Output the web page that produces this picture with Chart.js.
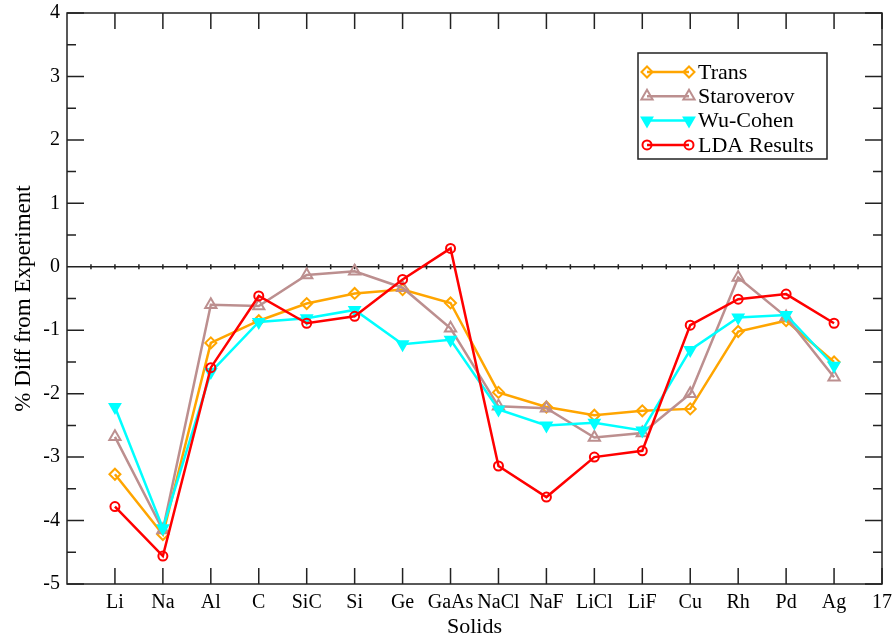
<!DOCTYPE html>
<html>
<head>
<meta charset="utf-8">
<script src="https://cdn.jsdelivr.net/npm/chart.js@4.4.1/dist/chart.umd.min.js"></script>
<style>
  body { margin: 0; background: #fff; }
  #wrap { width: 896px; height: 640px; }
</style>
</head>
<body>
<div id="wrap"><canvas id="solidsChart" width="896" height="640"></canvas></div>
<script>
const solids = ['Li', 'Na', 'Al', 'C', 'SiC', 'Si', 'Ge', 'GaAs', 'NaCl', 'NaF', 'LiCl', 'LiF', 'Cu', 'Rh', 'Pd', 'Ag'];
const xPos = [1, 2, 3, 4, 5, 6, 7, 8, 9, 10, 11, 12, 13, 14, 15, 16];

const trans = [-3.27, -4.22, -1.2, -0.85, -0.58, -0.42, -0.36, -0.57, -1.98, -2.21, -2.34, -2.27, -2.24, -1.02, -0.85, -1.5];
const staroverov = [-2.68, -4.15, -0.6, -0.62, -0.13, -0.07, -0.33, -0.97, -2.2, -2.23, -2.69, -2.62, -2.0, -0.17, -0.79, -1.74];
const wuCohen = [-2.21, -4.12, -1.66, -0.87, -0.81, -0.68, -1.22, -1.15, -2.25, -2.5, -2.46, -2.58, -1.31, -0.8, -0.76, -1.56];
const lda = [-3.78, -4.56, -1.59, -0.46, -0.89, -0.78, -0.2, 0.29, -3.14, -3.63, -3.0, -2.9, -0.92, -0.51, -0.43, -0.89];

const serif = '"Liberation Serif", "DejaVu Serif", serif';

function pts(vals) {
  return vals.map((v, i) => ({ x: xPos[i], y: v }));
}

// xmgrace style frame: inward ticks on all sides plus the zero line
const framePlugin = {
  id: 'frame',
  beforeDatasetsDraw(chart) {
    const ctx = chart.ctx;
    const a = chart.chartArea;
    const xs = chart.scales.x, ys = chart.scales.y;
    ctx.save();
    ctx.strokeStyle = '#222';
    ctx.lineWidth = 1.5;
    ctx.strokeRect(a.left, a.top, a.right - a.left, a.bottom - a.top);
    ctx.beginPath();
    for (let v = 1; v <= 17; v++) {
      const px = xs.getPixelForValue(v);
      ctx.moveTo(px, a.top); ctx.lineTo(px, a.top + 16);
      ctx.moveTo(px, a.bottom); ctx.lineTo(px, a.bottom - 16);
    }
    for (let v = -5; v <= 4; v += 0.5) {
      const py = ys.getPixelForValue(v);
      const len = Number.isInteger(v) ? 17 : 9;
      ctx.moveTo(a.left, py); ctx.lineTo(a.left + len, py);
      ctx.moveTo(a.right, py); ctx.lineTo(a.right - len, py);
    }
    const zy = ys.getPixelForValue(0);
    ctx.moveTo(a.left, zy); ctx.lineTo(a.right, zy);
    for (let v = 0.5; v < 17; v += 0.5) {
      const px = xs.getPixelForValue(v);
      ctx.moveTo(px, zy - 2.5); ctx.lineTo(px, zy + 2.5);
    }
    ctx.stroke();
    ctx.restore();
  },
  afterDraw(chart) {
    const ctx = chart.ctx;
    const a = chart.chartArea;
    const bx = a.left + 571, by = a.top + 40, bw = 189, bh = 106;
    ctx.save();
    ctx.fillStyle = '#fff';
    ctx.fillRect(bx, by, bw, bh);
    ctx.strokeStyle = '#222';
    ctx.lineWidth = 1.5;
    ctx.strokeRect(bx, by, bw, bh);
    chart.data.datasets.forEach((ds, i) => {
      const y = by + 19 + i * 24.3;
      ctx.strokeStyle = ds.borderColor;
      ctx.lineWidth = 2.5;
      ctx.beginPath();
      ctx.moveTo(bx + 9, y); ctx.lineTo(bx + 51, y);
      ctx.stroke();
      [bx + 9, bx + 51].forEach(px => {
        ctx.fillStyle = ds.pointBackgroundColor;
        ctx.strokeStyle = ds.borderColor;
        ctx.lineWidth = 2;
        Chart.helpers.drawPoint(ctx, {
          pointStyle: ds.pointStyle, radius: ds.pointRadius,
          rotation: ds.pointRotation || 0, borderWidth: 2
        }, px, y);
      });
      ctx.fillStyle = '#000';
      ctx.font = '22px ' + serif;
      ctx.textBaseline = 'middle';
      ctx.fillText(ds.label, bx + 60, y + 1);
    });
    ctx.restore();
  }
};

new Chart(document.getElementById('solidsChart').getContext('2d'), {
  type: 'line',
  data: {
    datasets: [
      { label: 'Trans', data: pts(trans), borderColor: '#ffa500', pointBackgroundColor: 'rgba(0,0,0,0)',
        pointBorderColor: '#ffa500', pointStyle: 'rectRot', pointRadius: 5.5, order: 4 },
      { label: 'Staroverov', data: pts(staroverov), borderColor: '#bc8f8f', pointBackgroundColor: 'rgba(0,0,0,0)',
        pointBorderColor: '#bc8f8f', pointStyle: 'triangle', pointRadius: 6.5, order: 3 },
      { label: 'Wu-Cohen', data: pts(wuCohen), borderColor: '#00ffff', pointBackgroundColor: '#00ffff',
        pointBorderColor: '#00ffff', pointStyle: 'triangle', pointRotation: 180, pointRadius: 6, order: 2 },
      { label: 'LDA Results', data: pts(lda), borderColor: '#ff0000', pointBackgroundColor: 'rgba(0,0,0,0)',
        pointBorderColor: '#ff0000', pointStyle: 'circle', pointRadius: 4.5, order: 1 }
    ]
  },
  options: {
    responsive: false,
    animation: false,
    events: [],
    layout: { padding: { top: 13, right: 14, left: 0, bottom: 0 } },
    elements: {
      line: { tension: 0, borderWidth: 2.5, fill: false },
      point: { borderWidth: 2 }
    },
    plugins: { legend: { display: false }, tooltip: { enabled: false } },
    scales: {
      x: {
        type: 'linear', min: 0, max: 17,
        afterFit: s => { s.height = 56; s.paddingLeft = 0; s.paddingRight = 0; },
        afterBuildTicks: s => { s.ticks = []; for (let v = 0; v <= 17; v++) s.ticks.push({ value: v }); },
        grid: { display: false, drawTicks: false },
        border: { display: false },
        ticks: {
          autoSkip: false, maxRotation: 0, padding: 7, color: '#000',
          font: { family: serif, size: 20 },
          callback: v => v === 17 ? '17' : (solids[xPos.indexOf(v)] || '')
        },
        title: { display: true, text: 'Solids', color: '#000', font: { family: serif, size: 22 }, padding: { top: 0, bottom: 0 } }
      },
      y: {
        min: -5, max: 4,
        afterFit: s => { s.width = 67; s.paddingTop = 0; s.paddingBottom = 0; },
        grid: { display: false, drawTicks: false },
        border: { display: false },
        ticks: { stepSize: 1, padding: 7, color: '#000', font: { family: serif, size: 20 } },
        title: { display: true, text: '% Diff from Experiment', color: '#000', font: { family: serif, size: 23 }, padding: { top: 10, bottom: 0 } }
      }
    }
  },
  plugins: [framePlugin]
});
</script>
</body>
</html>
